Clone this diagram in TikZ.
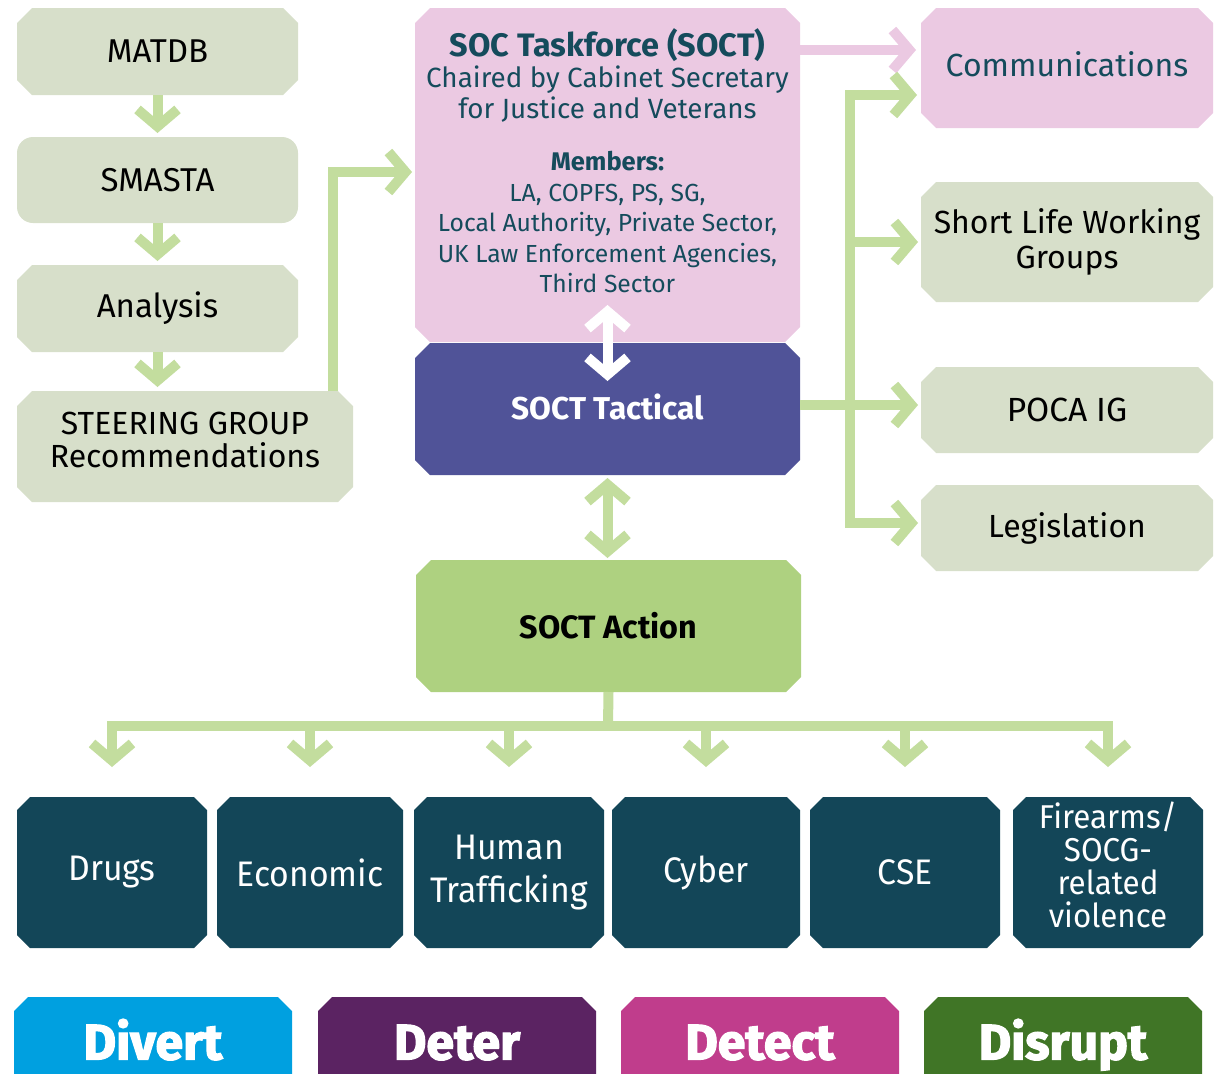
\documentclass[tikz,border=0pt]{standalone}
\usepackage{fontspec}
\setmainfont{Fira Sans}
\newfontfamily\heavyfont{Fira Sans}[BoldFeatures={FakeBold=2.5}]
\newfontfamily\condfont{Fira Sans}[FakeStretch=0.95]
\usetikzlibrary{arrows.meta,backgrounds}
\definecolor{sage}{HTML}{D7DFCA}
\definecolor{lgreen}{HTML}{C3DD9E}
\definecolor{pinkbox}{HTML}{EBC9E2}
\definecolor{tactical}{HTML}{505398}
\definecolor{action}{HTML}{AED180}
\definecolor{teal}{HTML}{154B5C}
\definecolor{darkbox}{HTML}{134658}
\definecolor{divertc}{HTML}{00A0E0}
\definecolor{deterc}{HTML}{5B2362}
\definecolor{detectc}{HTML}{C03D8C}
\definecolor{disruptc}{HTML}{407526}
% chamfered background of a named node: [chamfer]{node}{colour}
\newcommand\chamf[3][15pt]{\fill[#3] ([xshift=#1]#2.north west) -- ([xshift=-#1]#2.north east)
  -- ([yshift=-#1]#2.north east) -- ([yshift=#1]#2.south east) -- ([xshift=-#1]#2.south east)
  -- ([xshift=#1]#2.south west) -- ([yshift=#1]#2.south west) -- ([yshift=-#1]#2.north west) -- cycle;}
% background chamfered at the top only (box runs off the page bottom)
\newcommand\chamftop[3][14pt]{\fill[#3] ([xshift=#1]#2.north west) -- ([xshift=-#1]#2.north east)
  -- ([yshift=-#1]#2.north east) -- (#2.south east) -- (#2.south west) -- ([yshift=-#1]#2.north west) -- cycle;}
% invisible strut that adds depth (moves text up inside its box)
\newcommand\dstrut[1]{\rule[-#1]{0pt}{#1}}
\tikzset{
  chbox/.style={rectangle, inner sep=0pt, outer sep=0pt, draw=none, align=center},
  sagebox/.style={chbox, text=black, font=\fontsize{33}{34}\selectfont},
  darkb/.style={chbox, text=white, minimum width=#1, minimum height=151pt,
    font=\condfont\fontsize{35.5}{43}\selectfont},
  pill/.style={chbox, text=white, minimum width=278pt, minimum height=77pt,
    text height=48pt, text depth=0pt,
    font=\heavyfont\bfseries\fontsize{50}{52}\selectfont},
  gline/.style={draw=lgreen, line width=10pt},
  tipb/.tip={Straight Barb[length=17pt,width=40pt,sharp]},
  garrow/.style={gline, -tipb},
}
\begin{document}
\begin{tikzpicture}[x=1pt,y=-1pt]
\clip (0,0) rectangle (1216,1074);
\useasboundingbox (0,0) rectangle (1216,1074);

% left column
\node[sagebox, minimum width=281pt, minimum height=87pt] (matdb) at (157.5,51.5) {MATDB};
\node[fill=sage, rounded corners=16pt, minimum width=281pt, minimum height=86pt, inner sep=0pt, outer sep=0pt,
      font=\fontsize{33}{34}\selectfont] (smasta) at (157.5,180) {SMASTA};
\node[sagebox, minimum width=281pt, minimum height=87pt] (analysis) at (157.5,308.5) {Analysis};
\node[sagebox, minimum width=336pt, minimum height=111pt, font=\fontsize{32}{33}\selectfont] (steer) at (185,446.5) {STEERING GROUP\\Recommendations\dstrut{13pt}};

% central column
\node[chbox, minimum width=385pt, minimum height=334pt] (soct) at (607.5,175) {};
\node[text=teal, align=center, inner sep=0pt, font=\fontsize{24.7}{30.5}\selectfont] (socttext) at (607.5,160.5)
  {{\bfseries\fontsize{32.5}{31}\selectfont SOC Taskforce (SOCT)}\\[1pt]
   {\fontsize{27.8}{31}\selectfont Chaired by Cabinet Secretary}\\
   {\fontsize{27.8}{31}\selectfont for Justice and Veterans}\\[22pt]
   {\bfseries\fontsize{25.5}{30}\selectfont Members:}\\
   LA, COPFS, PS, SG,\\
   Local Authority, Private Sector,\\
   UK Law Enforcement Agencies,\\
   Third Sector};
\node[chbox, text=white, minimum width=385pt, minimum height=132pt,
      font=\bfseries\fontsize{31.6}{33}\selectfont] (tact) at (607.5,409) {SOCT Tactical\dstrut{4pt}};
\node[chbox, text=black, minimum width=385pt, minimum height=132pt,
      font=\bfseries\fontsize{32.3}{33}\selectfont] (action) at (608.5,626) {SOCT Action};

% right column
\node[chbox, text=teal, minimum width=292pt, minimum height=120pt, font=\fontsize{32}{33}\selectfont] (comm) at (1067,68) {Communications\dstrut{8pt}};
\node[sagebox, minimum width=292pt, minimum height=120pt, font=\fontsize{32}{35}\selectfont] (slwg) at (1067,242) {Short Life Working\\Groups};
\node[sagebox, minimum width=292pt, minimum height=86pt, font=\fontsize{33.5}{34}\selectfont] (poca) at (1067,410) {POCA IG};
\node[sagebox, minimum width=292pt, minimum height=86pt, font=\fontsize{32}{33}\selectfont] (leg) at (1067,528) {Legislation};

% bottom row
\node[darkb=190pt] (drugs) at (112,872.5) {Drugs};
\node[darkb=186pt] (econ) at (310,872.5) {Economic};
\node[darkb=190pt] (human) at (509,872.5) {Human\\Trafficking};
\node[darkb=188pt] (cyber) at (706,872.5) {Cyber};
\node[darkb=190pt] (cse) at (905,872.5) {CSE};
\node[darkb=190pt, font=\condfont\fontsize{33}{33}\selectfont] (fire) at (1108,872.5) {Firearms/\\SOCG-\\related\\violence\dstrut{16pt}};

% pills (running off the bottom of the page)
\node[pill] (divert) at (153,1035.5) {Divert};
\node[pill] (deter) at (457,1035.5) {Deter};
\node[pill] (detect) at (760,1035.5) {Detect};
\node[pill] (disrupt) at (1063,1035.5) {Disrupt};

% chamfered backgrounds
\begin{pgfonlayer}{background}
  \chamf{matdb}{sage}
  \chamf{analysis}{sage}
  \chamf{steer}{sage}
  \chamf{soct}{pinkbox}
  \chamf{tact}{tactical}
  \chamf{action}{action}
  \chamf{comm}{pinkbox}
  \chamf{slwg}{sage}
  \chamf{poca}{sage}
  \chamf{leg}{sage}
  \foreach \b in {drugs,econ,human,cyber,cse,fire} {\chamf[13pt]{\b}{darkbox}}
  \chamftop{divert}{divertc}
  \chamftop{deter}{deterc}
  \chamftop{detect}{detectc}
  \chamftop{disrupt}{disruptc}
\end{pgfonlayer}

% left connectors
\draw[garrow, shorten >=4pt] (matdb.south) -- (smasta.north);
\draw[garrow, shorten >=4pt] (smasta.south) -- (analysis.north);
\draw[garrow, shorten >=4pt] (analysis.south) -- (steer.north -| analysis.south);
\draw[garrow, shorten >=3pt] ([xshift=148pt]steer.north) |- ([yshift=3pt]soct.west);

% central connectors
\draw[draw=white, line width=10pt, tipb-tipb] ([yshift=37pt]soct.south) -- ([yshift=-38pt]tact.north);
\draw[gline, tipb-tipb, shorten <=3pt, shorten >=2pt] (tact.south) -- (action.north -| tact.south);

% right connectors
\coordinate (vx) at (850,0);
\draw[draw=pinkbox, line width=10pt, -tipb, shorten >=5pt] ([yshift=-42pt]soct.north east) -- ([yshift=-42pt]soct.north east -| comm.west);
\draw[garrow, shorten >=3pt] ([yshift=4pt]tact.east) -- ([yshift=4pt]tact.east -| poca.west);
\draw[garrow, shorten >=3pt, line join=miter] ([yshift=-27pt]comm.west -| vx) |- ([yshift=5pt]leg.west);
\draw[garrow, shorten >=4pt, line cap=rect] ([yshift=-27pt]comm.west -| vx) -- ([yshift=-27pt]comm.west);
\draw[garrow, shorten >=3pt] (slwg.west -| vx) -- (slwg.west);

% action bus
\coordinate (bus) at (608,726);
\draw[gline] (action.south) -- (bus);
\draw[gline, line cap=rect] (bus -| drugs.north) -- (bus -| fire.north);
\foreach \b in {drugs,econ,human,cyber,cse,fire}
  \draw[garrow, shorten >=30pt] (bus -| \b.north) -- (\b.north);
\end{tikzpicture}
\end{document}
